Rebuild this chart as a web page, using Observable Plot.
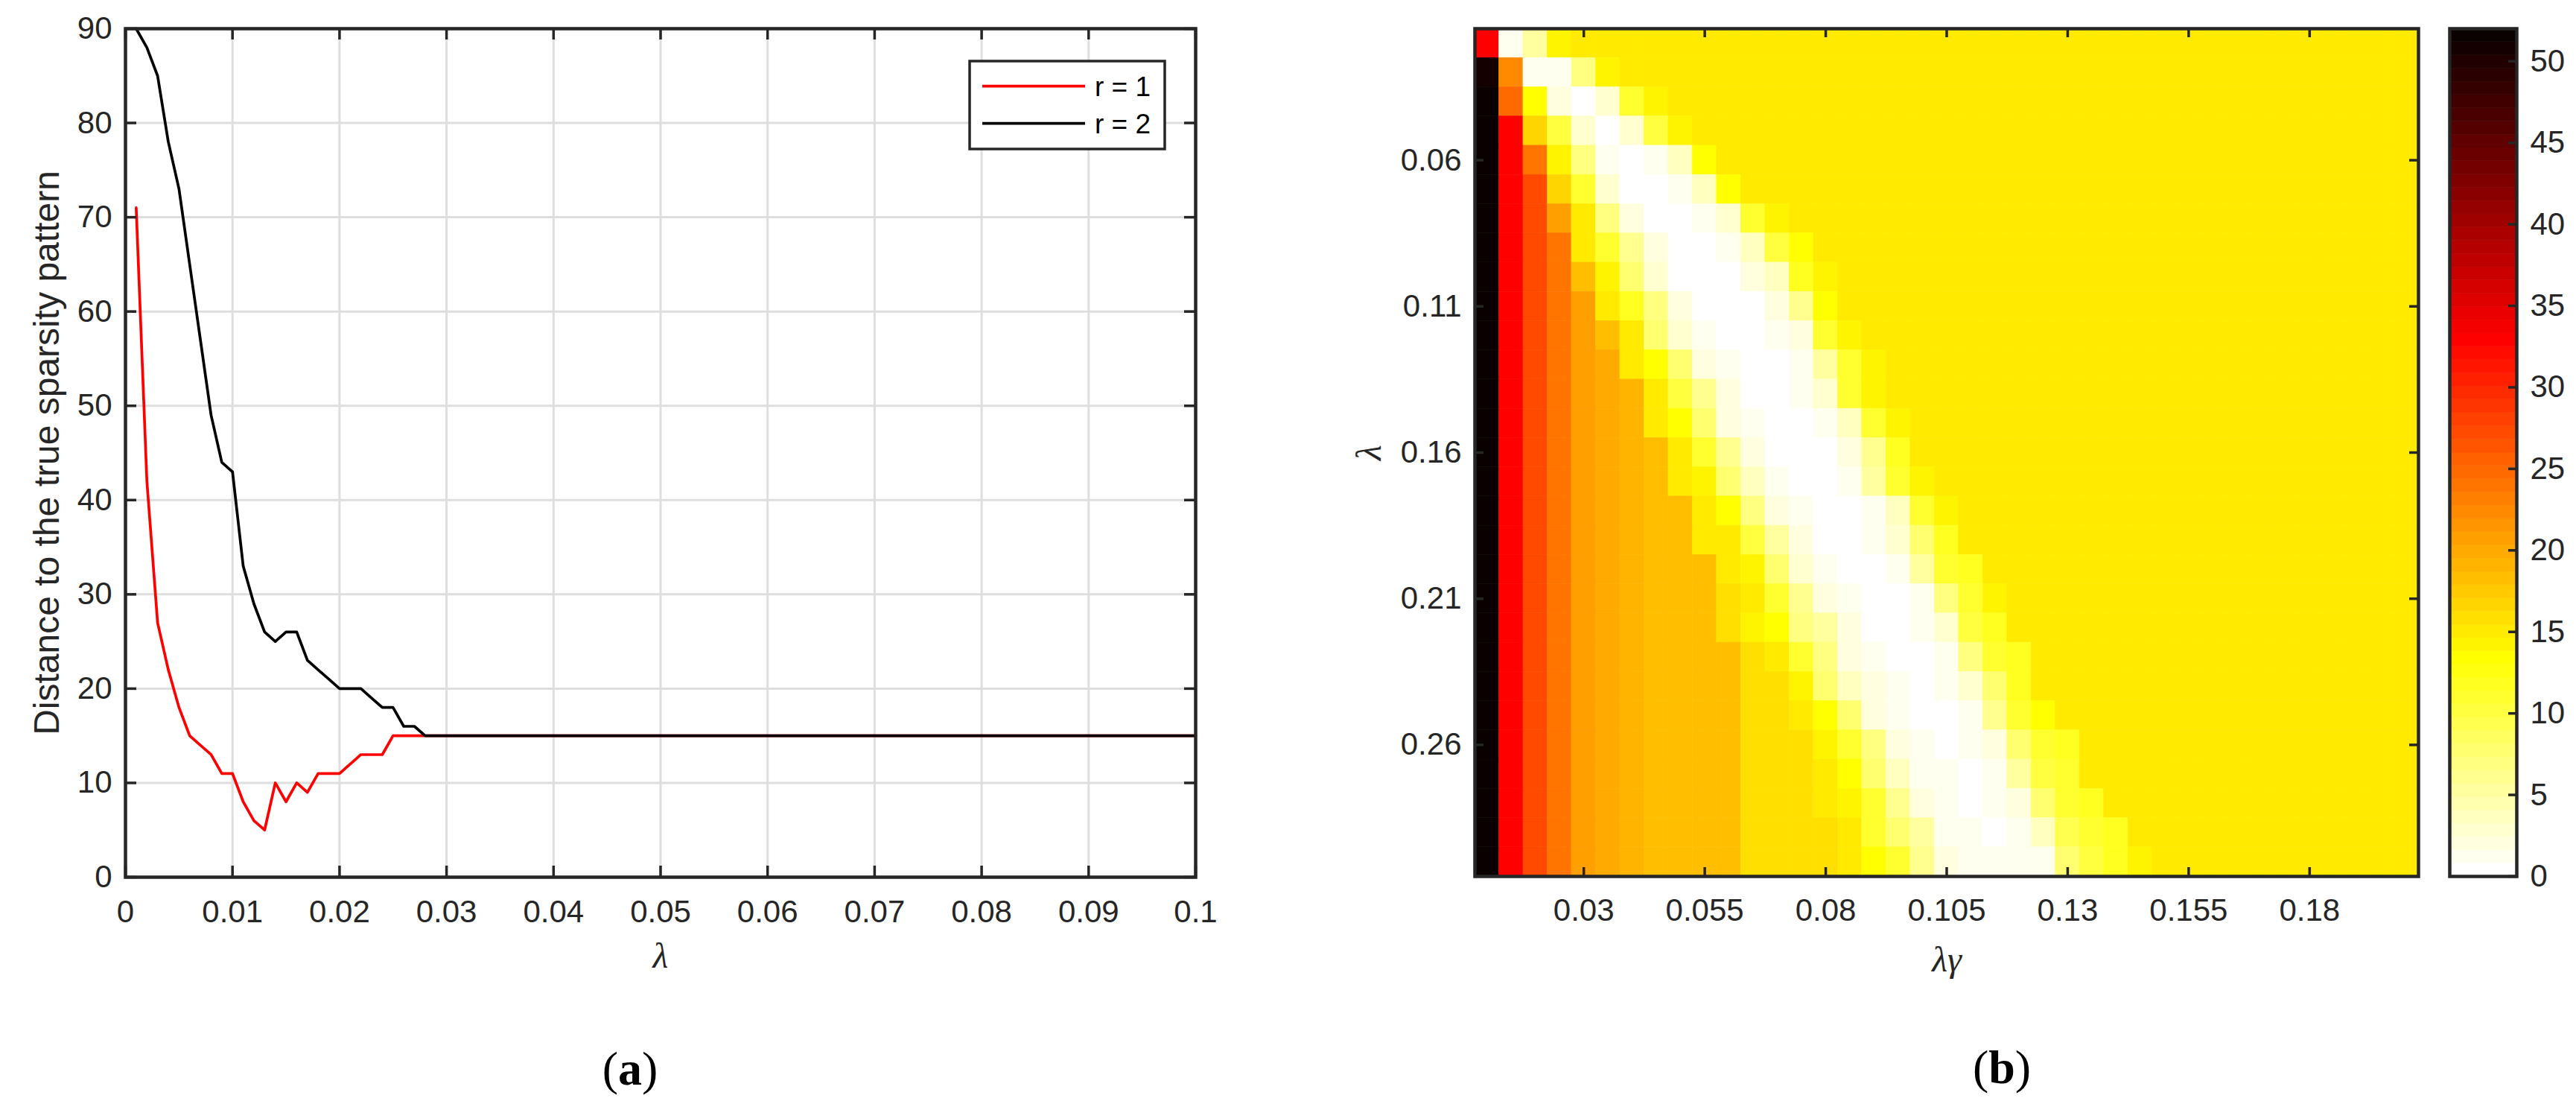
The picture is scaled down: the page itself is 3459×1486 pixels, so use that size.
<!DOCTYPE html>
<html><head><meta charset="utf-8">
<script src="https://cdn.jsdelivr.net/npm/d3@7"></script>
<script src="https://cdn.jsdelivr.net/npm/@observablehq/plot@0.6"></script>
<style>
html,body{margin:0;padding:0;background:#fff;}
#root{position:relative;width:3459px;height:1486px;overflow:hidden;background:#fff;font-family:"Liberation Sans",Arial,sans-serif;}
.cap{position:absolute;transform:translate(-50%,-50%);font-family:"Liberation Serif","Times New Roman",serif;font-size:64px;line-height:1;color:#000;white-space:nowrap;}
</style></head><body><div id="root"></div>
<script>
// ---------------- DATA: panel (a) ----------------
const lambdaA = [0.001,0.002,0.003,0.004,0.005,0.006,0.007,0.008,0.009,0.01,
0.011,0.012,0.013,0.014,0.015,0.016,0.017,0.018,0.019,0.02,
0.021,0.022,0.023,0.024,0.025,0.026,0.027,0.028,0.029,0.03,
0.031,0.032,0.033,0.034,0.035,0.036,0.037,0.038,0.039,0.04,
0.041,0.042,0.043,0.044,0.045,0.046,0.047,0.048,0.049,0.05,
0.051,0.052,0.053,0.054,0.055,0.056,0.057,0.058,0.059,0.06,
0.061,0.062,0.063,0.064,0.065,0.066,0.067,0.068,0.069,0.07,
0.071,0.072,0.073,0.074,0.075,0.076,0.077,0.078,0.079,0.08,
0.081,0.082,0.083,0.084,0.085,0.086,0.087,0.088,0.089,0.09,
0.091,0.092,0.093,0.094,0.095,0.096,0.097,0.098,0.099,0.1];
const distR1 = [71,42,27,22,18,15,14,13,11,11,
8,6,5,10,8,10,9,11,11,11,
12,13,13,13,15,15,15,15,15,15,
15,15,15,15,15,15,15,15,15,15,
15,15,15,15,15,15,15,15,15,15,
15,15,15,15,15,15,15,15,15,15,
15,15,15,15,15,15,15,15,15,15,
15,15,15,15,15,15,15,15,15,15,
15,15,15,15,15,15,15,15,15,15,
15,15,15,15,15,15,15,15,15,15];
const distR2 = [90,88,85,78,73,65,57,49,44,43,
33,29,26,25,26,26,23,22,21,20,
20,20,19,18,18,16,16,15,15,15,
15,15,15,15,15,15,15,15,15,15,
15,15,15,15,15,15,15,15,15,15,
15,15,15,15,15,15,15,15,15,15,
15,15,15,15,15,15,15,15,15,15,
15,15,15,15,15,15,15,15,15,15,
15,15,15,15,15,15,15,15,15,15,
15,15,15,15,15,15,15,15,15,15];
const seriesNames = ["r = 1", "r = 2"];
const xTicksA = [0,0.01,0.02,0.03,0.04,0.05,0.06,0.07,0.08,0.09,0.1];
const yTicksA = [0,10,20,30,40,50,60,70,80,90];

// ---------------- DATA: panel (b) ----------------
const lambdaB = [0.02,0.03,0.04,0.05,0.06,0.07,0.08,0.09,0.1,0.11,
0.12,0.13,0.14,0.15,0.16,0.17,0.18,0.19,0.2,0.21,
0.22,0.23,0.24,0.25,0.26,0.27,0.28,0.29,0.3];
const lambdaGamma = [0.01,0.015,0.02,0.025,0.03,0.035,0.04,0.045,0.05,0.055,
0.06,0.065,0.07,0.075,0.08,0.085,0.09,0.095,0.1,0.105,
0.11,0.115,0.12,0.125,0.13,0.135,0.14,0.145,0.15,0.155,
0.16,0.165,0.17,0.175,0.18,0.185,0.19,0.195,0.2];
const distGrid = [
[33,1,5,14,15,15,15,15,15,15, 15,15,15,15,15,15,15,15,15,15, 15,15,15,15,15,15,15,15,15,15, 15,15,15,15,15,15,15,15,15],
[51,22,1,1,7,14,15,15,15,15, 15,15,15,15,15,15,15,15,15,15, 15,15,15,15,15,15,15,15,15,15, 15,15,15,15,15,15,15,15,15],
[52,25,13,2,0,3,11,14,15,15, 15,15,15,15,15,15,15,15,15,15, 15,15,15,15,15,15,15,15,15,15, 15,15,15,15,15,15,15,15,15],
[52,33,17,10,3,0,3,10,14,15, 15,15,15,15,15,15,15,15,15,15, 15,15,15,15,15,15,15,15,15,15, 15,15,15,15,15,15,15,15,15],
[52,33,24,14,7,1,0,1,4,13, 15,15,15,15,15,15,15,15,15,15, 15,15,15,15,15,15,15,15,15,15, 15,15,15,15,15,15,15,15,15],
[52,33,27,17,11,3,0,0,1,4, 13,15,15,15,15,15,15,15,15,15, 15,15,15,15,15,15,15,15,15,15, 15,15,15,15,15,15,15,15,15],
[52,33,27,21,15,7,2,0,0,1, 3,11,14,15,15,15,15,15,15,15, 15,15,15,15,15,15,15,15,15,15, 15,15,15,15,15,15,15,15,15],
[52,33,27,24,15,11,6,2,0,0, 1,4,10,13,15,15,15,15,15,15, 15,15,15,15,15,15,15,15,15,15, 15,15,15,15,15,15,15,15,15],
[52,33,27,24,18,14,8,3,0,0, 0,2,4,12,14,15,15,15,15,15, 15,15,15,15,15,15,15,15,15,15, 15,15,15,15,15,15,15,15,15],
[52,33,27,24,21,15,12,7,2,0, 0,0,2,6,13,15,15,15,15,15, 15,15,15,15,15,15,15,15,15,15, 15,15,15,15,15,15,15,15,15],
[52,33,27,24,21,18,15,8,3,1, 0,0,1,2,11,14,15,15,15,15, 15,15,15,15,15,15,15,15,15,15, 15,15,15,15,15,15,15,15,15],
[52,33,27,24,21,20,15,13,8,2, 1,0,0,1,5,11,14,15,15,15, 15,15,15,15,15,15,15,15,15,15, 15,15,15,15,15,15,15,15,15],
[52,33,27,24,21,20,19,15,10,6, 2,0,0,1,3,11,14,15,15,15, 15,15,15,15,15,15,15,15,15,15, 15,15,15,15,15,15,15,15,15],
[52,33,27,24,21,20,19,15,13,8, 2,1,0,0,1,4,11,14,15,15, 15,15,15,15,15,15,15,15,15,15, 15,15,15,15,15,15,15,15,15],
[52,33,27,24,21,20,19,18,15,11, 6,2,0,0,0,2,6,12,15,15, 15,15,15,15,15,15,15,15,15,15, 15,15,15,15,15,15,15,15,15],
[52,33,27,24,21,20,19,18,15,14, 8,4,1,0,0,1,5,11,14,15, 15,15,15,15,15,15,15,15,15,15, 15,15,15,15,15,15,15,15,15],
[52,33,27,24,21,20,19,18,18,15, 13,7,2,1,0,0,1,4,11,14, 15,15,15,15,15,15,15,15,15,15, 15,15,15,15,15,15,15,15,15],
[52,33,27,24,21,20,19,18,18,15, 15,10,5,2,0,0,1,3,8,12, 15,15,15,15,15,15,15,15,15,15, 15,15,15,15,15,15,15,15,15],
[52,33,27,24,21,20,19,18,18,18, 15,14,8,3,1,0,0,1,5,11, 12,15,15,15,15,15,15,15,15,15, 15,15,15,15,15,15,15,15,15],
[52,33,27,24,21,20,19,18,18,18, 16,15,11,6,2,1,0,0,1,7, 11,14,15,15,15,15,15,15,15,15, 15,15,15,15,15,15,15,15,15],
[52,33,27,24,21,20,19,18,18,18, 16,14,13,7,5,2,0,0,1,3, 10,12,15,15,15,15,15,15,15,15, 15,15,15,15,15,15,15,15,15],
[52,33,27,24,21,20,19,18,18,18, 18,16,15,11,7,2,1,0,0,1, 7,11,12,15,15,15,15,15,15,15, 15,15,15,15,15,15,15,15,15],
[52,33,27,24,21,20,19,18,18,18, 18,16,16,14,8,4,2,1,0,1, 3,8,12,15,15,15,15,15,15,15, 15,15,15,15,15,15,15,15,15],
[52,33,27,24,21,20,19,18,18,18, 18,16,16,15,13,8,2,1,0,0, 1,6,11,13,15,15,15,15,15,15, 15,15,15,15,15,15,15,15,15],
[52,33,27,24,21,20,19,18,18,18, 18,16,16,16,14,11,7,2,1,0, 1,2,8,11,12,15,15,15,15,15, 15,15,15,15,15,15,15,15,15],
[52,33,27,24,21,20,19,18,18,18, 18,16,16,16,15,13,8,4,1,1, 0,1,5,10,11,15,15,15,15,15, 15,15,15,15,15,15,15,15,15],
[52,33,27,24,21,20,19,18,18,18, 18,16,16,16,15,14,11,6,2,1, 0,1,2,8,11,12,15,15,15,15, 15,15,15,15,15,15,15,15,15],
[52,33,27,24,21,20,19,18,18,18, 18,16,16,16,16,15,11,8,5,1, 1,0,1,4,9,11,12,15,15,15, 15,15,15,15,15,15,15,15,15],
[52,33,27,24,21,20,19,18,18,18, 18,16,16,16,16,15,13,11,6,2, 1,1,1,1,8,10,12,14,15,15, 15,15,15,15,15,15,15,15,15]
];
const xTicksB = [0.03,0.055,0.08,0.105,0.13,0.155,0.18];
const yTicksB = [0.06,0.11,0.16,0.21,0.26];
const cbTicks = [0,5,10,15,20,25,30,35,40,45,50];
const colorMax = 52;

distGrid.forEach((r,i)=>{ if (r.length !== lambdaGamma.length) throw new Error("row "+i+" has "+r.length); });
if (distGrid.length !== lambdaB.length) throw new Error("rows " + distGrid.length);

// ---------------- STYLE ----------------
const AX = "#262626";
const GRID = "#dedede";
const SANS = "'Liberation Sans', Arial, Helvetica, sans-serif";
const SERIF = "'Liberation Serif', 'Times New Roman', serif";
const baseStyle = `font-family:${SANS};font-size:42px;color:${AX};background:transparent;max-width:none;overflow:visible;`;

// flipped MATLAB "hot" colormap, 64 levels
const NLEV = 64;
function hotRev(k) {
  const h = NLEV - k;
  let r, g, b;
  if (h <= 24) { r = h / 24; g = 0; b = 0; }
  else if (h <= 48) { r = 1; g = (h - 24) / 24; b = 0; }
  else { r = 1; g = 1; b = (h - 48) / 16; }
  return d3.rgb(r * 255, g * 255, b * 255).formatHex();
}
const hotColors = d3.range(NLEV).map(hotRev);
const thresholds = d3.range(1, NLEV).map(k => k * colorMax / NLEV);
const colorScale = {type: "threshold", domain: thresholds, range: hotColors};

const root = document.getElementById("root");
function place(el, left, top, w) {
  const d = document.createElement("div");
  d.style.cssText = `position:absolute;left:${left}px;top:${top}px;width:${w}px;`;
  d.appendChild(el);
  root.appendChild(d);
}

// ---------------- PANEL (a) ----------------
{
  const W = 1700, H = 1330, mL = 168, mR = 95, mT = 38, mB = 153;
  const fW = W - mL - mR, fH = H - mT - mB;
  const tl = 15;
  const rows = lambdaA.map((x, i) => ({x, r1: distR1[i], r2: distR2[i]}));
  const svg = Plot.plot({
    width: W, height: H,
    marginLeft: mL, marginRight: mR, marginTop: mT, marginBottom: mB,
    style: baseStyle,
    x: {domain: [0, 0.1], ticks: xTicksA, tickSize: 0, tickPadding: 31, tickFormat: d => String(d), label: null},
    y: {domain: [0, 90], ticks: yTicksA, tickSize: 0, tickPadding: 18, tickFormat: d => String(d), label: null},
    marks: [
      Plot.ruleX(xTicksA, {x: d => d, stroke: GRID, strokeWidth: 3}),
      Plot.ruleY(yTicksA, {y: d => d, stroke: GRID, strokeWidth: 3}),
      Plot.line(rows, {x: "x", y: "r1", stroke: "#ff0000", strokeWidth: 3.7}),
      Plot.line(rows, {x: "x", y: "r2", stroke: "#000000", strokeWidth: 3.7}),
      Plot.tickX(xTicksA, {x: d => d, insetTop: fH - tl, stroke: AX, strokeWidth: 3.5}),
      Plot.tickX(xTicksA, {x: d => d, insetBottom: fH - tl, stroke: AX, strokeWidth: 3.5}),
      Plot.tickY(yTicksA, {y: d => d, insetRight: fW - tl, stroke: AX, strokeWidth: 3.5}),
      Plot.tickY(yTicksA, {y: d => d, insetLeft: fW - tl, stroke: AX, strokeWidth: 3.5}),
      Plot.frame({stroke: AX, strokeWidth: 4.5}),
      Plot.text(["Distance to the true sparsity pattern"], {frameAnchor: "left", dx: -105, rotate: -90, textAnchor: "middle", lineAnchor: "middle", fontSize: 48, fill: AX}),
      Plot.text(["λ"], {frameAnchor: "bottom", dy: 106, textAnchor: "middle", lineAnchor: "middle", fontSize: 48, fontStyle: "italic", fontFamily: SERIF, fill: AX})
    ]
  });
  place(svg, 0, 0, W);

  // legend
  const ns = "http://www.w3.org/2000/svg";
  const lg = document.createElementNS(ns, "svg");
  lg.setAttribute("width", 270); lg.setAttribute("height", 124);
  const colors = ["#ff0000", "#000000"];
  let inner = `<rect x="2" y="2" width="262" height="118" fill="#fff" stroke="${AX}" stroke-width="3.5"/>`;
  seriesNames.forEach((name, i) => {
    const y = 35.7 + i * 50;
    inner += `<line x1="19" x2="157" y1="${y}" y2="${y}" stroke="${colors[i]}" stroke-width="3.7"/>`;
    inner += `<text x="170" y="${y}" dy="0.35em" font-family="${SANS.replace(/'/g, "")}" font-size="37" fill="#000">${name}</text>`;
  });
  lg.innerHTML = inner;
  place(lg, 1300, 80, 270);
}

// ---------------- PANEL (b) heatmap ----------------
{
  const W = 1560, H = 1330, mL = 280, mR = 13, mT = 38, mB = 154;
  const fW = W - mL - mR, fH = H - mT - mB;
  const tl = 12;
  const cells = [];
  lambdaB.forEach((l, i) => lambdaGamma.forEach((g, j) => cells.push({l, g, v: distGrid[i][j]})));
  const hg = (lambdaGamma[1] - lambdaGamma[0]) / 2;
  const hl = (lambdaB[1] - lambdaB[0]) / 2;
  const svg = Plot.plot({
    width: W, height: H,
    marginLeft: mL, marginRight: mR, marginTop: mT, marginBottom: mB,
    style: baseStyle,
    x: {domain: [lambdaGamma[0] - hg, lambdaGamma[lambdaGamma.length - 1] + hg], ticks: xTicksB, tickSize: 0, tickPadding: 30, tickFormat: d => String(d), label: null},
    y: {domain: [lambdaB[0] - hl, lambdaB[lambdaB.length - 1] + hl], reverse: true, ticks: yTicksB, tickSize: 0, tickPadding: 18, tickFormat: d => String(d), label: null},
    color: colorScale,
    marks: [
      Plot.rect(cells, {x1: d => d.g - hg, x2: d => d.g + hg, y1: d => d.l - hl, y2: d => d.l + hl, fill: "v", stroke: "v", strokeWidth: 0.6}),
      Plot.tickX(xTicksB, {x: d => d, insetTop: fH - tl, stroke: AX, strokeWidth: 3.5}),
      Plot.tickX(xTicksB, {x: d => d, insetBottom: fH - tl, stroke: AX, strokeWidth: 3.5}),
      Plot.tickY(yTicksB, {y: d => d, insetRight: fW - tl, stroke: AX, strokeWidth: 3.5}),
      Plot.tickY(yTicksB, {y: d => d, insetLeft: fW - tl, stroke: AX, strokeWidth: 3.5}),
      Plot.frame({stroke: AX, strokeWidth: 4.5}),
      Plot.text(["λ"], {frameAnchor: "left", dx: -142, rotate: -90, textAnchor: "middle", lineAnchor: "middle", fontSize: 48, fontStyle: "italic", fontFamily: SERIF, fill: AX}),
      Plot.text(["λγ"], {frameAnchor: "bottom", dy: 112, textAnchor: "middle", lineAnchor: "middle", fontSize: 48, fontStyle: "italic", fontFamily: SERIF, fill: AX})
    ]
  });
  place(svg, 1700, 0, W);
}

// ---------------- colorbar ----------------
{
  const W = 199, H = 1330, mL = 29, mR = 80, mT = 38, mB = 154;
  const fW = W - mL - mR;
  const levels = hotColors.map((c, k) => ({lo: k * colorMax / NLEV, hi: (k + 1) * colorMax / NLEV}));
  const svg = Plot.plot({
    width: W, height: H,
    marginLeft: mL, marginRight: mR, marginTop: mT, marginBottom: mB,
    style: baseStyle,
    x: {domain: [0, 1], axis: null},
    y: {domain: [0, colorMax], axis: "right", ticks: cbTicks, tickSize: 0, tickPadding: 18, tickFormat: d => String(d), label: null},
    color: colorScale,
    marks: [
      Plot.rect(levels, {x1: 0, x2: 1, y1: "lo", y2: "hi", fill: d => (d.lo + d.hi) / 2, stroke: d => (d.lo + d.hi) / 2, strokeWidth: 0.6}),
      Plot.tickY(cbTicks, {y: d => d, insetLeft: fW - 11, stroke: AX, strokeWidth: 3.5}),
      Plot.frame({stroke: AX, strokeWidth: 4.5})
    ]
  });
  place(svg, 3260, 0, W);
}

// ---------------- captions ----------------
function caption(letter, x, y) {
  const d = document.createElement("div");
  d.className = "cap";
  d.style.left = x + "px"; d.style.top = y + "px";
  d.innerHTML = `(<b>${letter}</b>)`;
  root.appendChild(d);
}
caption("a", 846, 1435);
caption("b", 2688, 1433);
</script></body></html>
